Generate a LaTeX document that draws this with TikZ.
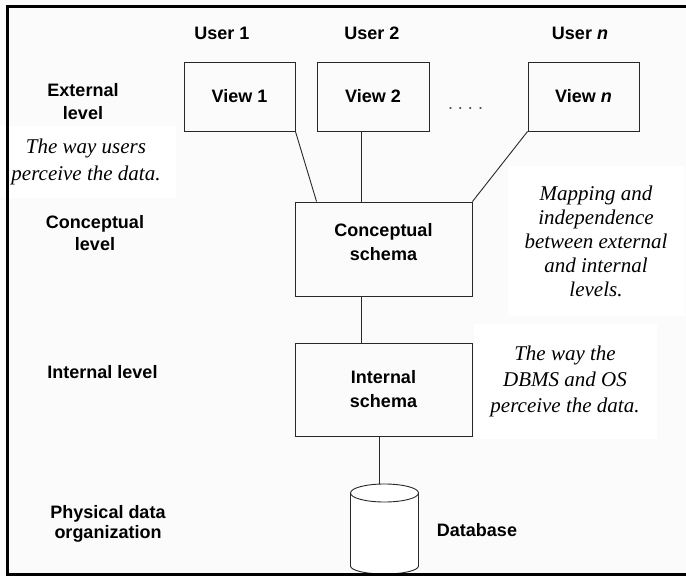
\documentclass[tikz,border=0pt]{standalone}
\usepackage{fontspec}
\setmainfont{Liberation Serif}
\newfontfamily\lsans{Liberation Sans}
\definecolor{bgcol}{RGB}{251,251,251}
\definecolor{ink}{RGB}{40,40,40}
\begin{document}
\begin{tikzpicture}[x=1pt,y=-1pt,
  box/.style={draw=ink, line width=0.9pt, rectangle, inner sep=0pt,
    font=\lsans\bfseries\fontsize{18}{24}\selectfont, align=center},
  lbl/.style={font=\lsans\bfseries\fontsize{18}{23}\selectfont, align=center, inner sep=0pt},
  note/.style={font=\fontsize{21}{24}\selectfont\itshape, align=center, fill=white, inner sep=0pt},
  link/.style={draw=ink, line width=0.9pt}]
\useasboundingbox (0,0) rectangle (686,576);
\fill[bgcol] (0,0) rectangle (686,576);

% italic notes on white panels
\node[note, minimum width=180pt, minimum height=72pt] (n1) at (86,161.6)
  {The way users\\[3pt]perceive the data.};
\node[note, minimum width=177pt, minimum height=150pt] (n2) at (596,240.9)
  {Mapping and\\independence\\between external\\and internal\\levels.};
\node[note, minimum width=183pt, minimum height=115pt] (n3) at (565,381.2)
  {The way the\\[2pt]DBMS and OS\\[2pt]perceive the data.};

% boxes
\node[box, minimum width=111pt, minimum height=69pt] (v1) at (239.5,96.5) {View 1};
\node[box, minimum width=112pt, minimum height=69pt] (v2) at (373,96.5) {View 2};
\node[box, minimum width=111pt, minimum height=69pt] (vn) at (583.5,96.5) {View \textit{n}};
\node[box, minimum width=177pt, minimum height=94pt] (cs) at (383.5,249) {};
\node[lbl] (cst) at (383.5,241.6) {Conceptual\\[1pt]schema};
\node[box, minimum width=177pt, minimum height=93pt] (is) at (383.5,389.5) {Internal\\schema};

% database cylinder
\coordinate (dbtop) at (379,484.3);
\draw[link, fill=white] (350.5,493) -- (350.5,566)
  arc[start angle=180, end angle=0, x radius=34, y radius=8] -- (418.5,493);
\draw[link, fill=white] (384.5,493) ellipse [x radius=34, y radius=9];

% connectors
\draw[link] (v1.south east) -- ([xshift=22pt]cs.north west);
\draw[link] ([xshift=-12pt]v2.south) -- ([xshift=-12pt]v2.south |- cs.north);
\draw[link] (vn.south west) -- (cs.north east);
\draw[link] ([xshift=-22.5pt]cs.south) -- ([xshift=-22.5pt]cs.south |- is.north);
\draw[link] ([xshift=-4.5pt]is.south) -- (dbtop);

% dots between views
\node[font=\lsans\fontsize{18}{20}\selectfont, anchor=base, inner sep=0pt, text=black!70] (dots) at (465.5,109) {.\ .\ .\ .};

% labels
\node[lbl] (u1) at (222,33.3) {User 1};
\node[lbl] (u2) at (372,33.3) {User 2};
\node[lbl] (un) at (580,33.3) {User \textit{n}};
\node[lbl] (ext) at (83,101.7) {External\\level};
\node[lbl] (con) at (95,233.4) {Conceptual\\[-1pt]level};
\node[lbl] (int) at (102.5,372.5) {Internal level};
\node[lbl] (phy) at (108,523.8) {Physical data\\[-3pt]organization};
\node[lbl] (dbl) at (477,530) {Database};

% frame (right side outside the picture)
\draw[line width=3pt, black] (690,6.5) -- (7,6.5) -- (7,574.5) -- (690,574.5);
\end{tikzpicture}
\end{document}
